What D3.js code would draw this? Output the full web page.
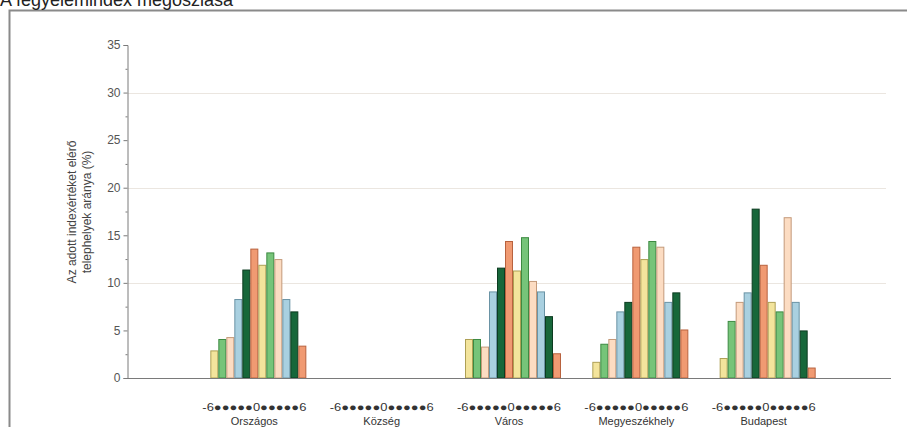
<!DOCTYPE html>
<html>
<head>
<meta charset="utf-8">
<script src="https://cdn.jsdelivr.net/npm/d3@7"></script>
<style>
  html, body { margin: 0; padding: 0; background: #fff; }
  svg { display: block; font-family: "Liberation Sans", Arial, sans-serif; }
</style>
</head>
<body>
<svg id="chart" width="907" height="427"></svg>
<script>
const title = "A fegyelemindex megoszlása";
const yTitle1 = "Az adott indexértéket elérő";
const yTitle2 = "telephelyek aránya  (%)";
const categories = ["Országos", "Község", "Város", "Megyeszékhely", "Budapest"];
const indexValues = [-6, -5, -4, -3, -2, -1, 0, 1, 2, 3, 4, 5, 6];
const subLabel = "-6●●●●●0●●●●●6";
const yTicks = [0, 5, 10, 15, 20, 25, 30, 35];
const gridValues = [10, 20, 30];

const orszagos      = [0, 2.9, 4.1, 4.3, 8.3, 11.4, 13.6, 11.9, 13.2, 12.5, 8.3, 7.0, 3.4];
const kozseg        = [0, 0, 0, 0, 0, 0, 0, 0, 0, 0, 0, 0, 0];
const varos         = [0, 4.1, 4.1, 3.3, 9.1, 11.6, 14.4, 11.3, 14.8, 10.2, 9.1, 6.5, 2.6];
const megyeszekhely = [0, 1.7, 3.6, 4.1, 7.0, 8.0, 13.8, 12.5, 14.4, 13.8, 8.0, 9.0, 5.1];
const budapest      = [0, 2.1, 6.0, 8.0, 9.0, 17.8, 11.9, 8.0, 7.0, 16.9, 8.0, 5.0, 1.1];
const seriesValues = [orszagos, kozseg, varos, megyeszekhely, budapest];

const fills   = ["#f09a72", "#f3e49c", "#76c479", "#fcdcc2", "#a9d0e0", "#17673a"];
const strokes = ["#b8623e", "#aea055", "#3d8a42", "#c49a7a", "#6a93a5", "#0c3b20"];

const svg = d3.select("#chart");

// frame
svg.append("rect").attr("x", 9.5).attr("y", 10.5).attr("width", 920).attr("height", 440)
  .attr("fill", "none").attr("stroke", "#8a8a8a").attr("stroke-width", 2);

// title (partially cut off at top, as in the reference)
svg.append("text").attr("x", 0).attr("y", 6).attr("font-size", 18).attr("fill", "#222").text(title);

const y = d3.scaleLinear().domain([0, 35]).range([378, 45]);
const x = d3.scalePoint().domain(categories).range([127, 891]).padding(1);
const inner = d3.scaleBand().domain(indexValues).range([-52, 52]).padding(0);

// gridlines
svg.append("g").selectAll("line").data(gridValues).join("line")
  .attr("x1", 128).attr("x2", 886)
  .attr("y1", d => Math.round(y(d)) + 0.5).attr("y2", d => Math.round(y(d)) + 0.5)
  .attr("stroke", "#ebe6e0").attr("stroke-width", 1);

// y axis
const yAxis = d3.axisLeft(y).tickValues(yTicks).tickSize(4).tickPadding(3);
const gy = svg.append("g").attr("transform", "translate(127.5,0)").call(yAxis);
gy.select(".domain").attr("stroke", "#7a7a7a");
gy.selectAll(".tick line").attr("stroke", "#7a7a7a");
gy.selectAll(".tick text").attr("font-size", 12).attr("fill", "#555")
  .attr("font-family", "\"Liberation Sans\", Arial, sans-serif");
// minor ticks
const minor = d3.axisLeft(y).tickValues(d3.range(2.5, 35, 5)).tickSize(2).tickFormat("");
const gm = svg.append("g").attr("transform", "translate(127.5,0)").call(minor);
gm.select(".domain").remove();
gm.selectAll(".tick line").attr("stroke", "#7a7a7a");

// y title
const yt = svg.append("g").attr("transform", "translate(79,212) rotate(-90)");
yt.append("text").attr("text-anchor", "middle").attr("y", -3).attr("font-size", 12).attr("fill", "#444").text(yTitle1);
yt.append("text").attr("text-anchor", "middle").attr("y", 12).attr("font-size", 12).attr("fill", "#444").text(yTitle2);

// bars
const groups = svg.append("g").selectAll("g").data(categories).join("g")
  .attr("transform", d => `translate(${x(d)},0)`);
groups.selectAll("rect").data((d, i) => seriesValues[i].map((v, j) => ({ v, k: indexValues[j], j })))
  .join("rect")
  .filter(d => d.v > 0)
  .attr("x", d => inner(d.k) + 0.5)
  .attr("width", inner.bandwidth() - 1)
  .attr("y", d => y(d.v) + 0.5)
  .attr("height", d => y(0) - y(d.v) - 0.5)
  .attr("fill", d => fills[d.j % 6])
  .attr("stroke", d => strokes[d.j % 6])
  .attr("stroke-width", 1);

// x axis line
svg.append("line").attr("x1", 127).attr("x2", 891).attr("y1", 378.5).attr("y2", 378.5)
  .attr("stroke", "#7a7a7a");

// x labels
groups.append("text").attr("x", -52).attr("y", 411).attr("font-size", 11)
  .attr("textLength", 104).attr("lengthAdjust", "spacingAndGlyphs")
  .attr("fill", "#333").text(subLabel);
groups.append("text").attr("y", 425).attr("text-anchor", "middle").attr("font-size", 11)
  .attr("fill", "#333").text(d => d);
</script>
</body>
</html>
